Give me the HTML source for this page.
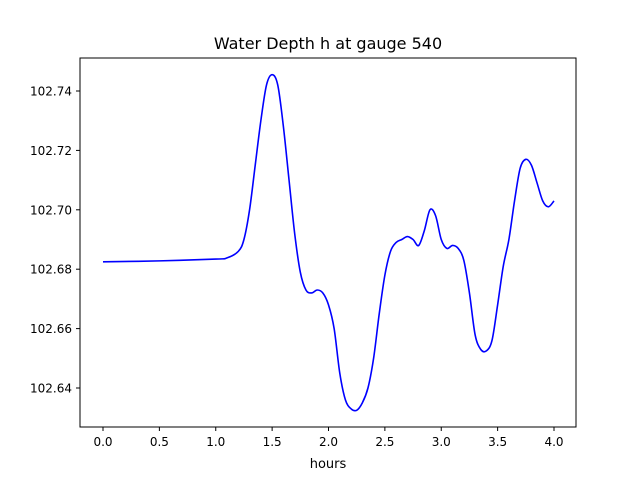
<!DOCTYPE html>
<html><head><meta charset="utf-8"><style>
body{margin:0;background:#fff;font-family:"Liberation Sans","DejaVu Sans",sans-serif}
</style></head><body>
<svg id="chart" width="640" height="480" font-family="DejaVu Sans, Liberation Sans, sans-serif">
<rect width="640" height="480" fill="#fff"/>
<text x="328" y="49" text-anchor="middle" font-size="16">Water Depth h at gauge 540</text>
<g id="xt"></g>
<g id="yt"></g>
<path id="line" fill="none" stroke="#0000ff" stroke-width="1.6"/>
<rect x="80" y="58" width="496" height="369" fill="none" stroke="#000" stroke-width="1"/>
<text x="328" y="468" text-anchor="middle" font-size="13">hours</text>
</svg>
<script>
const hours=[0,0.5,1,1.1,1.2,1.25,1.3,1.35,1.4,1.45,1.5,1.55,1.6,1.65,1.7,1.75,1.8,1.85,1.9,1.95,2,2.05,2.1,2.15,2.2,2.25,2.3,2.35,2.4,2.45,2.5,2.55,2.6,2.65,2.7,2.75,2.8,2.85,2.9,2.95,3,3.05,3.1,3.15,3.2,3.25,3.3,3.35,3.4,3.45,3.5,3.55,3.6,3.65,3.7,3.75,3.8,3.85,3.9,3.95,4];
const depth=[102.6825,102.6828,102.6834,102.6838,102.686,102.690,102.700,102.715,102.730,102.742,102.7455,102.742,102.728,102.710,102.692,102.679,102.673,102.672,102.673,102.672,102.668,102.660,102.645,102.636,102.633,102.6325,102.635,102.640,102.650,102.665,102.678,102.686,102.689,102.690,102.691,102.690,102.688,102.693,102.700,102.698,102.690,102.687,102.688,102.687,102.683,102.672,102.658,102.653,102.6525,102.656,102.668,102.681,102.690,102.703,102.714,102.717,102.715,102.709,102.703,102.701,102.703];
const xTicks=[0,0.5,1,1.5,2,2.5,3,3.5,4];
const yTicks=[102.64,102.66,102.68,102.70,102.72,102.74];
const X=v=>103+v*112.75;
const Y=v=>388-(v-102.64)*2970;
const ns="http://www.w3.org/2000/svg";
const xt=document.getElementById('xt'),yt=document.getElementById('yt');
xTicks.forEach(t=>{
 const l=document.createElementNS(ns,'line');
 
 
 l.setAttribute('x1',X(t));l.setAttribute('x2',X(t));l.setAttribute('y1',427);l.setAttribute('y2',431);l.setAttribute('stroke','#000');
 xt.appendChild(l);
 const s=document.createElementNS(ns,'text');
 
 
 s.setAttribute('x',X(t));s.setAttribute('y',446);s.setAttribute('text-anchor','middle');s.setAttribute('font-size','12');
 s.textContent=t.toFixed(1);xt.appendChild(s);
});
yTicks.forEach(t=>{
 const l=document.createElementNS(ns,'line');
 
 
 l.setAttribute('x1',76);l.setAttribute('x2',80);l.setAttribute('y1',Y(t));l.setAttribute('y2',Y(t));l.setAttribute('stroke','#000');
 yt.appendChild(l);
 const s=document.createElementNS(ns,'text');
 
 
 s.setAttribute('x',72);s.setAttribute('y',Y(t)+4.5);s.setAttribute('text-anchor','end');s.setAttribute('font-size','12');
 s.textContent=t.toFixed(2);yt.appendChild(s);
});
// Catmull-Rom smoothing
const pts=hours.map((h,i)=>[X(h),Y(depth[i])]);
let d='M'+pts[0][0]+','+pts[0][1];
for(let i=0;i<pts.length-1;i++){
 const p0=pts[Math.max(i-1,0)],p1=pts[i],p2=pts[i+1],p3=pts[Math.min(i+2,pts.length-1)];
 const c1=[p1[0]+(p2[0]-p0[0])/6,p1[1]+(p2[1]-p0[1])/6];
 const c2=[p2[0]-(p3[0]-p1[0])/6,p2[1]-(p3[1]-p1[1])/6];
 d+=` C${c1[0]},${c1[1]} ${c2[0]},${c2[1]} ${p2[0]},${p2[1]}`;
}
document.getElementById('line').setAttribute('d',d);
</script>
</body></html>
